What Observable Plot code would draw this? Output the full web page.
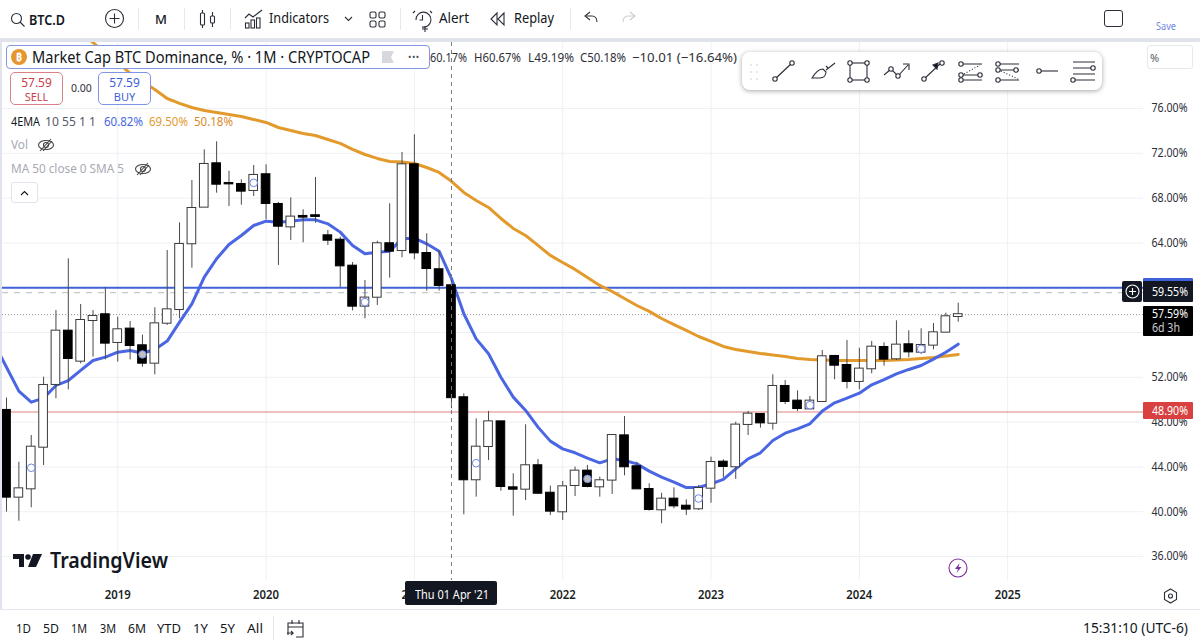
<!DOCTYPE html>
<html><head><meta charset="utf-8">
<script src="https://cdn.jsdelivr.net/npm/d3@7"></script>
<script src="https://cdn.jsdelivr.net/npm/@observablehq/plot@0.6"></script>
<style>
html,body{margin:0;padding:0;background:#fff;overflow:hidden}
#page{position:relative;width:1200px;height:644px;overflow:hidden;font-family:"Noto Sans",sans-serif;color:#131722}
.t{position:absolute;white-space:nowrap;line-height:1}
.ic{position:absolute;overflow:visible}
#page svg.plot{position:absolute;left:0;top:42px}
</style></head><body><div id="page"></div>
<script>
const opens=[49.04,41.30,42.04,45.76,51.36,56.12,53.44,57.07,57.58,55.11,56.30,54.81,53.26,56.83,58.05,63.92,67.19,71.06,69.30,69.21,68.68,70.08,67.43,65.43,66.36,66.42,64.63,64.24,61.92,58.35,59.15,63.92,63.32,70.97,63.05,61.60,60.17,50.17,42.85,45.82,48.02,42.13,42.01,44.10,41.65,39.99,42.34,43.62,42.22,42.82,46.77,44.01,41.98,40.17,41.12,40.49,40.26,42.10,44.42,44.01,47.79,48.68,47.90,51.18,49.87,49.18,49.84,53.86,53.05,51.63,52.76,54.66,53.65,54.90,54.24,54.87,56.03,57.43];
const closes=[41.30,42.04,45.76,51.27,56.12,53.68,57.07,57.43,55.05,56.24,54.84,53.26,56.77,58.02,63.86,67.07,71.00,69.24,69.27,68.62,70.02,67.52,65.49,66.30,66.30,66.36,64.24,61.95,58.35,59.07,63.92,63.26,70.97,63.11,61.71,60.20,50.18,42.85,45.76,48.02,42.25,42.01,44.10,41.65,40.05,42.22,43.62,42.25,42.76,46.80,44.01,42.04,40.20,41.12,40.52,40.23,42.07,44.39,44.04,47.73,48.71,47.93,51.18,49.84,49.21,49.87,53.83,53.08,51.63,52.73,54.69,53.62,54.87,54.27,54.84,55.97,57.40,57.59];
const highs=[50.14,44.42,46.80,52.01,57.96,62.58,58.50,57.96,60.02,57.37,56.98,55.76,58.20,63.32,65.79,69.57,72.31,73.02,70.40,69.63,70.91,70.97,67.61,68.02,66.95,69.84,65.11,64.51,62.25,60.64,64.15,67.49,72.07,73.65,64.81,63.26,60.67,50.52,48.29,48.95,48.02,43.38,47.76,44.66,42.28,42.70,43.98,44.13,43.08,46.89,48.50,44.42,42.49,41.65,42.13,41.06,42.34,44.87,44.63,47.99,48.95,48.74,52.22,51.71,50.79,50.29,54.39,53.95,55.29,54.60,55.20,55.08,57.04,56.15,56.33,56.80,57.73,58.62];
const lows=[39.96,39.15,40.35,44.12,50.08,50.88,53.20,53.80,53.56,53.35,53.56,52.90,52.22,56.63,57.22,61.74,67.19,68.44,67.25,67.37,68.14,66.06,61.98,64.21,64.01,65.76,63.77,59.99,57.93,57.22,58.41,60.85,62.67,62.49,59.69,59.69,49.19,39.72,41.30,44.57,41.83,39.60,41.00,41.54,39.66,39.21,41.36,42.13,41.30,41.54,43.20,42.01,40.05,38.92,40.26,39.66,40.11,40.76,43.02,42.88,46.80,47.46,47.28,49.57,48.95,49.13,49.78,51.77,50.97,50.88,52.31,52.99,53.50,53.74,54.04,54.45,56.00,56.92];
const emaFast=[52.90,50.76,49.78,50.14,51.27,51.71,52.61,53.50,53.80,54.24,54.39,54.15,54.48,55.23,56.92,58.56,60.94,62.58,63.86,64.66,65.55,65.94,65.85,65.94,66.06,66.06,65.70,64.96,63.77,63.02,63.17,63.26,64.36,64.42,63.92,63.26,60.82,57.67,55.43,54.10,52.01,50.23,49.04,47.55,46.30,45.61,45.26,44.78,44.36,44.72,44.57,44.27,43.62,43.08,42.64,42.16,42.16,42.49,42.88,43.83,44.72,45.26,46.36,47.01,47.40,47.85,48.98,49.72,50.14,50.58,51.33,51.80,52.31,52.70,53.05,53.62,54.24,54.96];
const emaFastBefore=55.02;
const emaSlow=[null,null,null,null,null,null,82.79,81.89,80.91,80.11,79.13,78.41,77.70,76.89,76.45,76.09,75.82,75.64,75.46,75.29,75.02,74.75,74.30,74.04,73.77,73.59,73.23,72.88,72.34,71.89,71.54,71.27,71.22,71.09,70.73,70.29,69.50,68.50,67.79,67.16,66.18,65.29,64.66,63.77,62.88,62.25,61.63,60.91,60.20,59.66,59.04,58.41,57.88,57.25,56.71,56.18,55.64,55.20,54.75,54.48,54.30,54.13,53.99,53.86,53.68,53.59,53.55,53.50,53.50,53.50,53.50,53.50,53.55,53.59,53.68,53.77,53.90,54.04];
const markerMonths=[2,11,20,29,38,47,56,65,74];
const markerLevels=[43.92,54.04,69.36,58.71,44.33,42.93,41.18,49.51,54.54];
const priceTicks=[76,72,68,64,60,56,52,48,44,40,36];
const priceTickLabels=[76,72,68,64,52,48,44,40,36];
const yearMonths=[9,21,33,45,57,69,81];
const yearLabels=["2019","2020","2021","2022","2023","2024","2025"];
const crosshairMonth=36;
const resistanceLevel=60, dashedLevel=59.55, lastLevel=57.59, supportLevel=48.9;

const candles=opens.map((o,i)=>({i,o,c:closes[i],h:highs[i],l:lows[i],up:closes[i]>=o}));
const emaRows=[{i:-1,fast:emaFastBefore,slow:null}].concat(emaFast.map((v,i)=>({i,fast:v,slow:emaSlow[i]})));
const markers=markerMonths.map((i,k)=>({i,v:markerLevels[k]}));
const page=document.getElementById("page");

const plot=Plot.plot({
  width:1200,height:567,marginLeft:2,marginRight:57,marginTop:0,marginBottom:29,
  style:{fontFamily:'"Noto Sans",sans-serif',fontSize:"12px",background:"transparent",color:"#131722"},
  x:{type:"linear",domain:[-0.324,91.99]},
  y:{type:"linear",domain:[33.857,81.89]},
  marks:[
    Plot.gridY(priceTicks,{stroke:"#eef0f4",strokeOpacity:1}),
    Plot.gridX(yearMonths,{stroke:"#eef0f4",strokeOpacity:1}),
    Plot.ruleY([dashedLevel],{stroke:"#b8bbc2",strokeDasharray:"6 6",strokeWidth:1}),
    Plot.ruleY([lastLevel],{stroke:"#8a8d94",strokeDasharray:"1 2",strokeWidth:1}),
    Plot.ruleY([resistanceLevel],{stroke:"#3f62d8",strokeWidth:2}),
    Plot.ruleY([supportLevel],{stroke:"#e28080",strokeWidth:1.2}),
    Plot.line(emaRows,{x:"i",y:"slow",stroke:"#e39a2c",strokeWidth:3,clip:true}),
    Plot.line(emaRows,{x:"i",y:"fast",stroke:"#4a66e2",strokeWidth:3,clip:true}),
    Plot.ruleX(candles,{x:"i",y1:"l",y2:"h",stroke:"#4a4a4a",strokeWidth:1}),
    Plot.rect(candles,{x1:d=>d.i-0.35,x2:d=>d.i+0.35,y1:"o",y2:"c",fill:d=>d.up?"#fff":"#000",stroke:d=>d.up?"#3a3a3a":"#000",strokeWidth:1,insetTop:-0.5,insetBottom:-0.5}),
    Plot.dot(markers,{x:"i",y:"v",r:3.8,stroke:"#6f86e6",strokeWidth:1,fill:"#fff",fillOpacity:0.75}),
    Plot.ruleX([crosshairMonth],{stroke:"#777a80",strokeDasharray:"4 4",strokeWidth:1}),
    Plot.axisY(priceTickLabels,{anchor:"right",tickSize:0,tickPadding:8,tickFormat:d=>d.toFixed(2)+"%",label:null,fill:"#2e3038",fontSize:12}),
    Plot.axisX(yearMonths,{anchor:"bottom",tickSize:0,tickPadding:10,tickFormat:i=>yearLabels[yearMonths.indexOf(i)],label:null,fill:"#1c1f26",fontSize:12,fontWeight:600})
  ]
});
plot.classList.add("plot");
page.appendChild(plot);
plot.querySelectorAll('g[aria-label="y-axis tick label"] text').forEach(t=>{t.setAttribute("textLength",36);t.setAttribute("lengthAdjust","spacingAndGlyphs");});
plot.querySelectorAll('g[aria-label="x-axis tick label"] text').forEach(t=>{t.setAttribute("textLength",26);t.setAttribute("lengthAdjust","spacingAndGlyphs");});

function box(x,y,w,h,css){const d=document.createElement("div");d.style.cssText=`position:absolute;left:${x}px;top:${y}px;width:${w}px;height:${h}px;box-sizing:border-box;${css||""}`;page.appendChild(d);return d;}
function txt(s,x,y,size,color,css,fitW){const d=document.createElement("div");d.className="t";d.textContent=s;d.style.cssText=`left:${x}px;top:${y}px;font-size:${size}px;color:${color};${css||""}`;page.appendChild(d);if(fitW){d.style.transformOrigin="left center";d.style.transform=`scaleX(${fitW/d.getBoundingClientRect().width})`;}return d;}
function ctxt(s,cx,y,size,color,css){return txt(s,cx,y,size,color,"transform:translateX(-50%);"+(css||""));}
function ic(x,y,w,h,inner,stroke){const n="http://www.w3.org/2000/svg";const s=document.createElementNS(n,"svg");s.setAttribute("class","ic");s.setAttribute("width",w);s.setAttribute("height",h);s.setAttribute("viewBox",`0 0 ${w} ${h}`);s.style.left=x+"px";s.style.top=y+"px";s.innerHTML=`<g fill="none" stroke="${stroke||"#2a2e39"}" stroke-width="1.1">${inner}</g>`;page.appendChild(s);return s;}

/* frame */
box(0,0,1200,38,"background:#fff");
box(0,38,1200,4,"background:#e0e3eb");
box(0,42,2,567,"background:#e0e3eb");
box(0,609,1200,1,"background:#e6e8ef");

/* top toolbar */
ic(10,12,16,18,'<circle cx="6.5" cy="6.5" r="5"/><path d="M10 10l4.5 4.5"/>');
txt("BTC.D",29,13,14,"#131722","font-weight:600",36);
ic(105,9,20,20,'<circle cx="9.5" cy="9.5" r="9"/><path d="M9.5 4.5v10M4.5 9.5h10"/>');
[138,184,230,400,570].forEach(x=>box(x,8,1,22,"background:#e6e8ee"));
ctxt("M",161,13,13,"#131722","font-weight:500");
ic(199,9,18,20,'<rect x="1.5" y="4" width="4" height="12" rx="1"/><path d="M3.5 1v3M3.5 16v3"/><rect x="11.5" y="7" width="4" height="7" rx="1"/><path d="M13.5 3v4M13.5 14v4"/>');
ic(244,9,20,20,'<path d="M1 9l4-4 4 3 9-7"/><rect x="1.5" y="14" width="3.5" height="5"/><rect x="7" y="11" width="3.5" height="8"/><rect x="12.5" y="9" width="3.5" height="10"/>');
txt("Indicators",269,11,14,"#131722","",60);
ic(344,16,9,6,'<path d="M1 1l3.5 3.5L8 1"/>');
ic(369,11,16,17,'<rect x="1" y="1" width="6" height="6" rx="1.5"/><rect x="10" y="1" width="6" height="6" rx="1.5"/><rect x="1" y="10" width="6" height="6" rx="1.5"/><rect x="10" y="10" width="6" height="6" rx="1.5"/>');
ic(413,9,20,22,'<path d="M3 11a7.5 7.5 0 1 1 6 7"/><path d="M9.5 6v5h-3"/><path d="M2 2L0 4M17 2l2 2"/><path d="M12 17v6M9 20h6"/>');
txt("Alert",439,11,14,"#131722","",30);
ic(490,12,15,15,'<path d="M7 1L1 7l6 6zM14 1L8 7l6 6z"/>');
txt("Replay",514,11,14,"#131722","",40);
ic(584,11,15,14,'<path d="M6 1L1 5l5 4"/><path d="M1 5h7c3 0 5 2 5 6"/>',"#333");
ic(621,11,15,14,'<path d="M9 1l5 4-5 4"/><path d="M14 5H7c-3 0-5 2-5 6"/>',"#c8cbd2");
box(1104,10,19,17,"border:1.2px solid #2a2e39;border-radius:3px");
txt("Save",1156,21,10,"#7286de","",20);

/* legend */
box(6,45,424,24,"border:1px solid #8397e4;border-radius:4px;background:#fff");
ic(11,49,16,16,'<circle cx="8" cy="8" r="8" fill="#e6962f" stroke="none"/><text x="8" y="12" font-size="11" font-weight="700" text-anchor="middle" fill="#fff" stroke="none">₿</text>');
txt("Market Cap BTC Dominance, % · 1M · CRYPTOCAP",32,49,16,"#131722","",338);
ic(382,51,12,12,'<path d="M0 0h12l-3 6 3 6H0z" fill="#d6d8de" stroke="none"/>');
txt("•••",408,52,9,"#444a58","letter-spacing:0.5px");
txt("60.17%",430,51,13,"#2e3038","",37);
txt("H60.67%",474,51,13,"#2e3038","",47);
txt("L49.19%",528,51,13,"#2e3038","",46);
txt("C50.18%",580,51,13,"#2e3038","",46);
txt("−10.01 (−16.64%)",632,51,13,"#2e3038","",105);
box(10,72,53,33,"border:1px solid #d98088;border-radius:5px;background:#fff");
ctxt("57.59",36.5,77,12,"#c83f4c");ctxt("SELL",36.5,91,11,"#c83f4c");
txt("0.00",71,83,10.5,"#2e3038");
box(98,72,53,33,"border:1px solid #7f94e6;border-radius:5px;background:#fff");
ctxt("57.59",124.5,77,12,"#3f5fd6");ctxt("BUY",124.5,91,11,"#3f5fd6");
txt("4EMA",11,115,13,"#131722","",29);
txt("10 55 1 1",45,115,13,"#555a66","",51);
txt("60.82%",104,115,13,"#4a66e2","",39);
txt("69.50%",149,115,13,"#e39a2c","",39);
txt("50.18%",194,115,13,"#d98a2b","",39);
txt("Vol",11,138,13,"#a7aab2","",17);
const eye='<ellipse cx="9" cy="7" rx="7.5" ry="4.5"/><circle cx="9" cy="7" r="2.5"/><path d="M3 13L14 1"/><path d="M6 13L15 3"/>';
ic(37,138,18,14,eye,"#444");
txt("MA 50 close 0 SMA 5",11,162,13,"#a7aab2","",113);
ic(134,162,18,14,eye,"#444");
box(11,182,27,21,"border:1px solid #e0e3eb;border-radius:3px;background:#fff");
ic(20,190,9,6,'<path d="M1 5l3.5-3.5L8 5"/>',"#131722");

/* price scale */
box(1147,45,46,24,"border:1px solid #e6e8ee;border-radius:3px;background:#fff");
txt("%",1150,52,11,"#555a66");
box(1143,278,50,24,"background:#131722;border-top:3px solid #3f62d8;border-radius:1px");
txt("59.55%",1152,286,12,"#fff","",36);
box(1122,281,20,21,"background:#131722;border-radius:2px");
ic(1125,284,16,16,'<circle cx="7.5" cy="7.5" r="6.5"/><path d="M7.5 4v7M4 7.5h7"/>',"#fff");
box(1143,306,50,30,"background:#000;border-radius:1px");
txt("57.59%",1152,308,12,"#fff","",36);
txt("6d 3h",1152,322,12,"#c9ccd3","",28);
box(1143,402,50,17,"background:#d8413f;border-radius:1px");
txt("48.90%",1152,405,12,"#fff","",36);

/* drawing toolbar */
box(742,52,360,38,"background:#fff;border-radius:8px;box-shadow:0 1px 5px rgba(0,0,0,.35)");
let dr='';
[[0,0],[6,0],[0,7],[6,7],[0,14],[6,14]].forEach(p=>dr+=`<circle cx="${1+p[0]}" cy="${1+p[1]}" r=".8" fill="#c8cbd2" stroke="none"/>`);
ic(750,64,10,16,dr);
const node=(x,y)=>`<circle cx="${x}" cy="${y}" r="2.2" fill="#fff"/>`;
ic(772,60,24,22,`<path d="M3 19L20 3"/>${node(3,19)}${node(20,3)}`);
ic(810,61,26,20,'<path d="M2 17h8c4 0 6-3 6-6l-3-3c-4 0-8 4-11 9z"/><path d="M16 9l9-7"/><path d="M16 5l2 2"/>');
ic(846,59,24,24,`<rect x="4" y="4" width="17" height="17"/>${node(4,4)}${node(21,4)}${node(4,21)}${node(21,21)}`);
ic(883,62,28,18,`<path d="M1 13l7-6 7 7 10-11M20 2h6v6"/>${node(8,7)}${node(15,14)}`);
ic(921,60,24,22,`<path d="M3 19L19 4"/><path d="M17 3l-5 2 4 4z" fill="#131722"/>${node(3,19)}${node(21,3)}`);
ic(958,60,28,24,`<path d="M4 4h20M4 15h20M4 20h20"/>${node(3,4)}${node(22,15)}${node(3,15)}${node(3,20)}<path d="M6 14l16-9" stroke-dasharray="1 2"/>`);
ic(995,60,28,24,`<path d="M4 4h20M4 10h20M4 20h20"/>${node(3,4)}${node(3,10)}${node(21,10)}${node(3,20)}<path d="M6 11l17 8" stroke-dasharray="1 2"/>`);
ic(1036,66,22,10,`<path d="M4 5h18"/>${node(3,5)}`);
ic(1070,59,26,24,`<path d="M3 3h22M3 9h22M3 15h22M3 21h22"/>${node(23,9)}${node(3,21)}`);

/* crosshair label, logo, icons on axis */
box(405,581,92,24,"background:#131722;border-radius:2px");
txt("Thu 01 Apr '21",415,589,12,"#fff","",74);
ic(13,553,30,16,'<path d="M0 1h11v13H6V6H0z" fill="#131722" stroke="none"/><circle cx="15" cy="4" r="2.8" fill="#131722" stroke="none"/><path d="M20 1h9l-6 13h-8z" fill="#131722" stroke="none"/>');
txt("TradingView",50,550,21,"#131722","font-weight:600",118);
ic(948,558,20,20,'<circle cx="10" cy="10" r="9"/><path d="M11.5 5L7 11h3l-1.5 4 5-6h-3z" fill="#7b2f9f" stroke="none"/>',"#7b2f9f");
ic(1163,588,15,16,'<path d="M7.5 1l6 3.5v7l-6 3.5-6-3.5v-7z"/><circle cx="7.5" cy="8" r="2"/>');

/* range bar */
[["1D",16,15],["5D",43,16],["1M",71,16],["3M",100,16],["6M",128,18],["YTD",157,24],["1Y",193,15],["5Y",220,15],["All",247,16]].forEach(r=>txt(r[0],r[1],622,13,"#131722","",r[2]));
box(273,616,1,24,"background:#e6e8ee");
ic(287,619,18,19,'<path d="M1 16V4h15v14H9"/><path d="M1 8h15M5 1v4M12 1v4"/><path d="M0 14h6l-2-2M6 14l-2 2"/>');
txt("15:31:10 (UTC-6)",1083,622,13.5,"#131722","",105);
</script></body></html>
